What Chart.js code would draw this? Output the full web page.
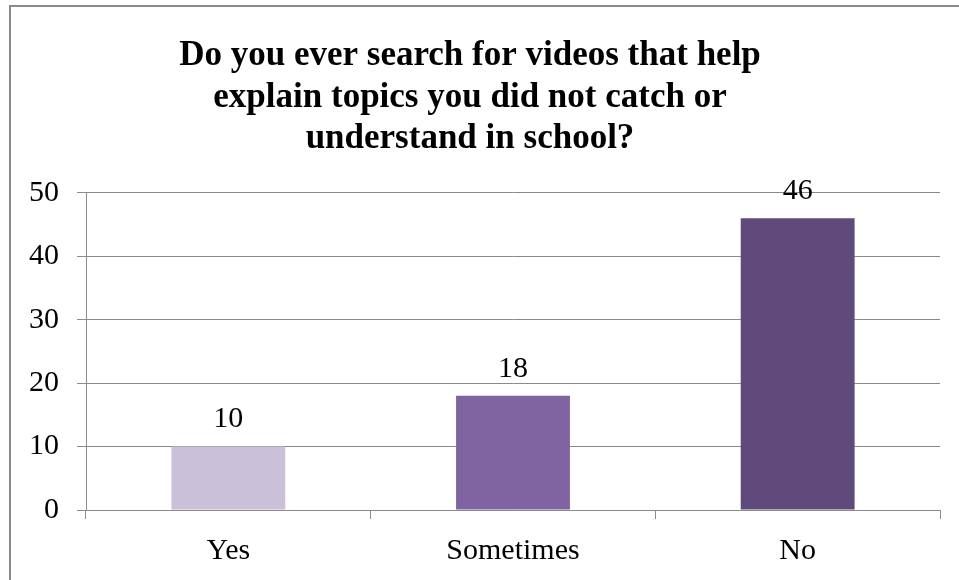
<!DOCTYPE html>
<html>
<head>
<meta charset="utf-8">
<script src="https://cdn.jsdelivr.net/npm/chart.js@4"></script>
<style>
  html, body { margin: 0; padding: 0; background: #fff; }
  #wrap { width: 959px; height: 580px; }
</style>
</head>
<body>
<div id="wrap"><canvas id="myChart" width="959" height="580"></canvas></div>
<script>
const categorias = ['Yes', 'Sometimes', 'No'];
const valores = [10, 18, 46];
const colores = ['#CBC0DA', '#8064A2', '#604A7B'];
const titulo = ['Do you ever search for videos that help', 'explain topics you did not catch or', 'understand in school?'];

const serif = "'Liberation Serif', 'Times New Roman', serif";

// marco gris alrededor de todo
const marco = {
  id: 'marco',
  beforeDraw(chart) {
    const c = chart.ctx;
    c.save();
    c.fillStyle = '#fff';
    c.fillRect(0, 0, chart.width, chart.height);
    c.strokeStyle = '#8a8a8a';
    c.lineWidth = 2;
    c.strokeRect(10, 6, 1000, 1000);
    c.restore();
  }
};

// valores encima de las barras
const etiquetas = {
  id: 'etiquetas',
  afterDatasetsDraw(chart) {
    const c = chart.ctx;
    const meta = chart.getDatasetMeta(0);
    c.save();
    c.font = '30px ' + serif;
    c.fillStyle = '#000';
    c.textAlign = 'center';
    c.textBaseline = 'bottom';
    meta.data.forEach((bar, i) => {
      c.fillText(String(valores[i]), bar.x, bar.y - 12);
    });
    c.restore();
  }
};

const ctx = document.getElementById('myChart').getContext('2d');
const myChart = new Chart(ctx, {
  type: 'bar',
  data: {
    labels: categorias,
    datasets: [{
      data: valores,
      backgroundColor: colores,
      borderWidth: 0,
      barPercentage: 0.4,
      categoryPercentage: 1
    }]
  },
  options: {
    responsive: false,
    animation: false,
    layout: { padding: { left: 0, right: 19, top: 0, bottom: 0 } },
    plugins: {
      legend: { display: false },
      tooltip: { enabled: false },
      title: {
        display: true,
        text: titulo,
        color: '#000',
        font: { family: serif, size: 35, weight: 'bold', lineHeight: 1.19 },
        padding: { top: 35, bottom: 33 }
      }
    },
    scales: {
      y: {
        min: 0,
        max: 50,
        ticks: { stepSize: 10, color: '#000', padding: 18, font: { family: serif, size: 30 } },
        grid: { color: '#8a8a8a', lineWidth: 1, tickLength: 9 },
        border: { color: '#8a8a8a', width: 1 },
        afterFit(scale) { scale.width = 86; }
      },
      x: {
        ticks: { color: '#000', padding: 14, font: { family: serif, size: 30 } },
        grid: { color: '#8a8a8a', drawOnChartArea: false, tickLength: 9, offset: true },
        border: { color: '#8a8a8a', width: 1 },
        afterFit(scale) { scale.height = 70; }
      }
    }
  },
  plugins: [marco, etiquetas]
});
</script>
</body>
</html>
